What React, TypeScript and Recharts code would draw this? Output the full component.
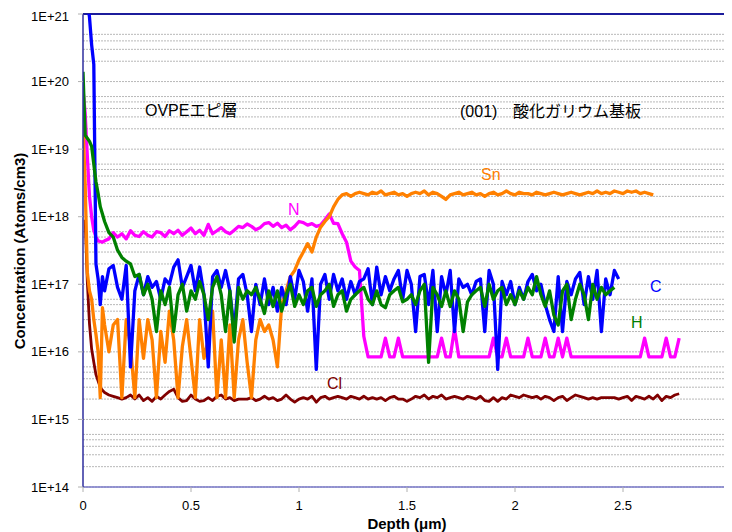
import React from "react";
import { LineChart, Line, XAxis, YAxis, CartesianGrid, ReferenceLine } from "recharts";

// Depth (µm) sampling grid
const depth = [
  0, 0.01, 0.02, 0.03, 0.04, 0.05, 0.06, 0.07, 0.08, 0.09, 0.1,
  0.12, 0.14, 0.16, 0.18, 0.2, 0.22, 0.24, 0.26, 0.28, 0.3,
  0.32, 0.34, 0.36, 0.38, 0.4, 0.42, 0.44, 0.46, 0.48, 0.5,
  0.52, 0.54, 0.56, 0.58, 0.6, 0.62, 0.64, 0.66, 0.68, 0.7,
  0.72, 0.74, 0.76, 0.78, 0.8, 0.82, 0.84, 0.86, 0.88, 0.9,
  0.92, 0.94, 0.96, 0.98, 1.0, 1.02, 1.04, 1.06, 1.08, 1.1,
  1.12, 1.14, 1.16, 1.18, 1.2, 1.22, 1.24, 1.26, 1.28, 1.3,
  1.32, 1.34, 1.36, 1.38, 1.4, 1.42, 1.44, 1.46, 1.48, 1.5,
  1.52, 1.54, 1.56, 1.58, 1.6, 1.62, 1.64, 1.66, 1.68, 1.7,
  1.72, 1.74, 1.76, 1.78, 1.8, 1.82, 1.84, 1.86, 1.88, 1.9,
  1.92, 1.94, 1.96, 1.98, 2.0, 2.02, 2.04, 2.06, 2.08, 2.1,
  2.12, 2.14, 2.16, 2.18, 2.2, 2.22, 2.24, 2.26, 2.28, 2.3,
  2.32, 2.34, 2.36, 2.38, 2.4, 2.42, 2.44, 2.46, 2.48, 2.5,
  2.52, 2.54, 2.56, 2.58, 2.6, 2.62, 2.64, 2.66, 2.68, 2.7,
  2.72, 2.74, 2.76,
];

const C = [
  null, null, 1.5e21, 9e20, 3.5e20, 1.8e20, 2e17, 1.2e17, 5e16, 1.3e17, 8e16,
  1.7e17, 1.9e17, 9e16, 6e16, 1.9e17, 6e15, 8e16, 1.4e17, 7e16, 1.3e17,
  9e16, 1.1e17, 6e16, 1.2e17, 1e17, 1.8e17, 2.3e17, 9e16, 1.3e17, 1.9e17,
  8e16, 1.8e17, 7e16, 6e15, 1.3e17, 1.6e17, 9e16, 1.6e17, 8e16, 2e16,
  1.2e17, 1.4e17, 7e16, 2e16, 1e17, 5e16, 1.2e17, 5e16, 9e16, 4e16,
  9e16, 5e16, 1.3e17, 6e16, 1.6e17, 1.1e17, 4e16, 1.2e17, 5.5e15, 1e17,
  1.4e17, 6e16, 1.4e17, 8e16, 1.2e17, 6e16, 1.1e17, 7e16, 1.1e17, 1.2e17,
  1.7e17, 5e16, 1.8e17, 7e16, 1.3e17, 8e16, 1.2e17, 1.6e17, 6e16, 1.6e17,
  1e17, 2e16, 1.3e17, 1.4e17, 5e16, 1.6e17, 2e16, 1.3e17, 7e16, 1.6e17,
  2e16, 1.2e17, 9e16, 1e17, 7e16, 1.1e17, 1.2e17, 2e16, 1.6e17, 1e17,
  5.5e15, 1.1e17, 7e16, 1.1e17, 5e16, 9e16, 6e16, 1.1e17, 1.4e17, 8e16,
  1e17, 5e16, 3e16, 2e16, 1.3e17, 2e16, 1.1e17, 7e16, 1.2e17, 1.5e17,
  5e16, 1.3e17, 6e16, 1.6e17, 2e16, 1.2e17, 7e16, 1.6e17, 1.2e17, null,
  null, null, null, null, null, null, null, null, null, null,
  null, null, null,
];

const H = [
  1.4e20, 1.6e19, 1.45e19, 1.3e19, 1.1e19, 6e18, 3.3e18, 2.2e18, 1.4e18, 1.1e18, 8.5e17,
  5.8e17, 5e17, 3.2e17, 2.5e17, 2.2e17, 2e17, 1.3e17, 1.4e17, 7e16, 1e17,
  6e16, 2e16, 8e16, 5e16, 9e16, 2e16, 7e16, 1e17, 4e16, 8e16,
  6e16, 1.1e17, 7e16, 3e16, 9e16, 1.3e17, 7e16, 2e16, 8e16, 1.4e16,
  9e16, 6e16, 8e16, 7e16, 9e16, 6e16, 3.7e16, 8e16, 4.7e16, 8e16,
  4e16, 7e16, 1e17, 4.7e16, 7e16, 5e16, 8e16, 9e16, 4.7e16, 7e16,
  8e16, 1e17, 4.7e16, 7e16, 8e16, 4e16, 6e16, 7e16, 8e16, 9e16,
  6e16, 5e16, 8e16, 5e16, 4.5e16, 7e16, 8e16, 9e16, 5.5e16, 6e16,
  7e16, 5e16, 8e16, 1e17, 7e15, 9e16, 7e16, 4.7e16, 8e16, 4.7e16,
  8e16, 6e16, 2e16, 5.5e16, 7e16, 8e16, 9e16, 4.7e16, 1e17, 6e16,
  8e16, 9e16, 5e16, 7e16, 5e16, 8e16, 6e16, 9e16, 7e16, 1.3e17,
  7e16, 4.7e16, 8e16, 3.5e16, 2.5e16, 8e16, 1e17, 3e16, 6e16, 1e17,
  7e16, 3e16, 1e17, 6e16, 9e16, 7e16, 8e16, 9e16, null, null,
  null, null, null, null, null, null, null, null, null, null,
  null, null, null,
];

const Sn = [
  2.3e19, 3e18, 1.5e17, 8e16, 6e16, 3e16, 1.8e16, 1e16, 2.1e15, 4.5e16, 2.5e16,
  1e16, 2.5e16, 3e16, 2.1e15, 3e16, 1.2e16, 2.1e15, 3e16, 8e15, 3e16,
  1.5e16, 2.1e15, 2e16, 7e15, 4e16, 1.5e16, 2.1e15, 1.2e16, 3e16, 8e15,
  2.1e15, 3e16, 8e15, 1.5e16, 4e16, 2.1e15, 1.5e16, 2.1e15, 2.5e16, 2.1e15,
  1.5e16, 3e16, 7e15, 2.1e15, 1.5e16, 3e16, 2e16, 2.5e16, 1.5e16, 6e15,
  5e16, 8e16, 1.3e17, 1.6e17, 2.3e17, 3e17, 4e17, 3e17, 5e17, 7e17,
  8.5e17, 1e18, 1.4e18, 1.8e18, 2.1e18, 2.2e18, 2.0e18, 2.2e18, 2.3e18, 2.2e18,
  2.1e18, 2.3e18, 2.2e18, 2.4e18, 2.1e18, 2.2e18, 2.3e18, 2.1e18, 2.2e18, 2.0e18,
  2.2e18, 2.3e18, 2.2e18, 2.4e18, 2.1e18, 2.3e18, 2.2e18, 2.0e18, 1.8e18, 2.1e18,
  2.2e18, 2.3e18, 2.1e18, 2.2e18, 2.3e18, 2.1e18, 2.2e18, 2.0e18, 2.2e18, 2.3e18,
  2.1e18, 2.2e18, 2.4e18, 2.2e18, 2.1e18, 2.3e18, 2.2e18, 2.2e18, 2.1e18, 2.3e18,
  2.2e18, 2.1e18, 2.2e18, 2.3e18, 2.2e18, 2.1e18, 2.2e18, 2.3e18, 2.2e18, 2.1e18,
  2.2e18, 2.3e18, 2.2e18, 2.4e18, 2.2e18, 2.3e18, 2.2e18, 2.4e18, 2.3e18, 2.2e18,
  2.4e18, 2.3e18, 2.4e18, 2.2e18, 2.3e18, 2.2e18, 2.1e18, null, null, null,
  null, null, null,
];

const N = [
  7.6e19, 3.4e19, 7.9e18, 2e18, 1e18, 6.3e17, 5e17, 4.4e17, 4.3e17, 4.2e17, 4.4e17,
  4.7e17, 5.8e17, 5e17, 5.6e17, 4.7e17, 6.2e17, 5.3e17, 5.1e17, 6e17, 5.3e17,
  5e17, 6e17, 5.8e17, 5.1e17, 6.2e17, 5.6e17, 6.3e17, 5.3e17, 6e17, 6.8e17,
  5.6e17, 6.3e17, 5.3e17, 7.7e17, 5.6e17, 6.2e17, 6.9e17, 6e17, 5.6e17, 6.3e17,
  7.2e17, 6.9e17, 7.8e17, 7.2e17, 6.4e17, 6.9e17, 7.9e17, 8.2e17, 7.2e17, 8e17,
  6.9e17, 7.5e17, 6.4e17, 7.2e17, 8.5e17, 8.2e17, 7.5e17, 7.9e17, 7.2e17, 7.5e17,
  9e17, 1.1e18, 8e17, 7.9e17, 5.6e17, 4.2e17, 2.2e17, 1.8e17, 1.6e17, 1.7e16,
  8.4e15, 8.4e15, 8.4e15, 8.4e15, 1.6e16, 8.4e15, 8.4e15, 1.6e16, 8.4e15, 8.4e15,
  8.4e15, 8.4e15, 8.4e15, 8.4e15, 8.4e15, 8.4e15, 8.4e15, 1.6e16, 8.4e15, 8.4e15,
  2.2e16, 8.4e15, 8.4e15, 8.4e15, 8.4e15, 8.4e15, 8.4e15, 8.4e15, 8.4e15, 1.6e16,
  8.4e15, 8.4e15, 1.6e16, 8.4e15, 8.4e15, 8.4e15, 8.4e15, 1.6e16, 8.4e15, 8.4e15,
  8.4e15, 1.6e16, 8.4e15, 8.4e15, 1.6e16, 8.4e15, 1.6e16, 8.4e15, 8.4e15, 8.4e15,
  8.4e15, 8.4e15, 8.4e15, 8.4e15, 8.4e15, 8.4e15, 8.4e15, 8.4e15, 8.4e15, 8.4e15,
  8.4e15, 8.4e15, 8.4e15, 8.4e15, 1.6e16, 8.4e15, 8.4e15, 8.4e15, 8.4e15, 1.6e16,
  8.4e15, 8.4e15, 1.6e16,
];

const Cl = [
  null, 9e17, 1.1e17, 2.6e16, 1.1e16, 7e15, 4.6e15, 3.7e15, 3e15, 2.7e15, 2.5e15,
  2.3e15, 2.2e15, 2.1e15, 2.0e15, 2.1e15, 2.3e15, 2.0e15, 2.3e15, 1.9e15, 2.1e15,
  1.85e15, 2.2e15, 2.0e15, 2.3e15, 2.6e15, 2.8e15, 2.1e15, 1.85e15, 1.9e15, 2.3e15,
  2.0e15, 1.85e15, 1.9e15, 2.1e15, 1.9e15, 2.2e15, 2.3e15, 2.0e15, 2.1e15, 1.9e15,
  2.0e15, 2.0e15, 2.0e15, 2.1e15, 1.9e15, 2.0e15, 2.2e15, 2.0e15, 2.1e15, 1.9e15,
  2.0e15, 2.3e15, 2.0e15, 1.8e15, 2.0e15, 2.1e15, 2.0e15, 2.2e15, 1.8e15, 2.1e15,
  2.2e15, 2.0e15, 2.1e15, 2.2e15, 2.1e15, 2.0e15, 2.2e15, 2.1e15, 2.0e15, 2.2e15,
  2.0e15, 2.1e15, 2.0e15, 2.1e15, 1.9e15, 2.1e15, 2.2e15, 2.0e15, 2.0e15, 1.85e15,
  2.0e15, 2.2e15, 2.1e15, 2.3e15, 2.0e15, 2.2e15, 2.1e15, 2.3e15, 2.0e15, 2.1e15,
  2.2e15, 2.1e15, 2.0e15, 2.2e15, 2.1e15, 2.0e15, 2.2e15, 1.9e15, 1.85e15, 2.1e15,
  1.85e15, 2.1e15, 2.0e15, 2.3e15, 2.2e15, 2.1e15, 2.3e15, 2.2e15, 2.1e15, 2.2e15,
  2.0e15, 2.2e15, 2.1e15, 1.9e15, 2.1e15, 2.2e15, 1.9e15, 2.1e15, 2.3e15, 2.2e15,
  2.1e15, 2.0e15, 2.1e15, 2.0e15, 2.1e15, 2.1e15, 2.1e15, 2.1e15, 2.0e15, 2.1e15,
  2.2e15, 1.9e15, 2.2e15, 2.1e15, 2.0e15, 2.2e15, 2.0e15, 2.3e15, 1.9e15, 2.2e15,
  2.1e15, 2.3e15, 2.4e15,
];

const xTicks = [0, 0.5, 1, 1.5, 2, 2.5, 3];
const yTicks = [1e14, 1e15, 1e16, 1e17, 1e18, 1e19, 1e20, 1e21];
const yTickLabels = ["1E+14", "1E+15", "1E+16", "1E+17", "1E+18", "1E+19", "1E+20", "1E+21"];
const gridMantissas = [1, 2, 3, 4, 5, 6, 7, 8, 9];

const data = depth.map((d, i) => ({ depth: d, C: C[i], H: H[i], Sn: Sn[i], N: N[i], Cl: Cl[i] }));
const gridValues: number[] = [];
yTicks.slice(0, -1).forEach((t) => gridMantissas.forEach((m) => gridValues.push(m * t)));
gridValues.push(yTicks[yTicks.length - 1]);

const FONT = "'Liberation Sans', Arial, 'Noto Sans CJK JP', sans-serif";

export default function App() {
  const W = 724;
  const Hh = 524;
  return (
    <div style={{ position: "relative", width: W, height: Hh, fontFamily: FONT }}>
      <LineChart width={W} height={Hh} data={data} margin={{ top: 6, right: 1, bottom: 0, left: 0 }}>
        <CartesianGrid
          horizontal={true}
          vertical={false}
          horizontalValues={gridValues}
          stroke="#b8b8b8"
          strokeDasharray="2 1"
        />
        <XAxis
          dataKey="depth"
          type="number"
          domain={[0, 3]}
          ticks={xTicks}
          allowDataOverflow
          height={45}
          tickSize={5}
          tickMargin={9}
          axisLine={{ stroke: "#7878c8", strokeWidth: 1.5 }}
          tickLine={{ stroke: "#b0b0b0" }}
          tick={{ fill: "#000", fontSize: 13, fontFamily: FONT }}
        />
        <YAxis
          type="number"
          scale="log"
          domain={[1e14, 1e21]}
          ticks={yTicks}
          allowDataOverflow
          width={75}
          tickSize={5}
          tickMargin={9}
          tickFormatter={(v: number) => yTickLabels[yTicks.indexOf(v)] ?? ""}
          axisLine={{ stroke: "#2e2e9e", strokeWidth: 1.5 }}
          tickLine={{ stroke: "#b0b0b0" }}
          tick={{ fill: "#000", fontSize: 13, fontFamily: FONT }}
        />
        <ReferenceLine y={1e21} stroke="#1c1c9c" strokeWidth={2} />
        <ReferenceLine x={3} stroke="#a8a8d8" strokeWidth={1.5} />
        <Line dataKey="Cl" type="linear" stroke="#800000" strokeWidth={2.8} dot={false} isAnimationActive={false} strokeLinejoin="round" />
        <Line dataKey="N" type="linear" stroke="#ff00ff" strokeWidth={3.3} dot={false} isAnimationActive={false} strokeLinejoin="round" />
        <Line dataKey="Sn" type="linear" stroke="#ff8000" strokeWidth={3.3} dot={false} isAnimationActive={false} strokeLinejoin="round" />
        <Line dataKey="C" type="linear" stroke="#0000ff" strokeWidth={3.3} dot={false} isAnimationActive={false} strokeLinejoin="round" />
        <Line dataKey="H" type="linear" stroke="#008000" strokeWidth={3.3} dot={false} isAnimationActive={false} strokeLinejoin="round" />
      </LineChart>
      <svg
        width={W}
        height={Hh}
        style={{ position: "absolute", left: 0, top: 0, pointerEvents: "none" }}
        fontFamily={FONT}
      >
        <text x={17} y={243} transform="rotate(-90 17 243)" textAnchor="middle" fontSize={15} fontWeight="bold" fill="#000">
          Concentration (Atoms/cm3)
        </text>
        <text x={399} y={521} textAnchor="middle" fontSize={15} fontWeight="bold" fill="#000">
          Depth (μm)
        </text>
        <text x={137} y={108} fontSize={16} fill="#000">OVPEエピ層</text>
        <text x={452} y={109} fontSize={16} fill="#000">(001)</text>
        <text x={505} y={109} fontSize={16} fill="#000">酸化ガリウム基板</text>
        <text x={473} y={172} fontSize={16} fill="#ff8000">Sn</text>
        <text x={280} y={207} fontSize={16} fill="#ff00ff">N</text>
        <text x={642} y={284} fontSize={16} fill="#0000ff">C</text>
        <text x={623} y={320} fontSize={16} fill="#008000">H</text>
        <text x={319} y={381} fontSize={16} fill="#800000">Cl</text>
      </svg>
    </div>
  );
}
